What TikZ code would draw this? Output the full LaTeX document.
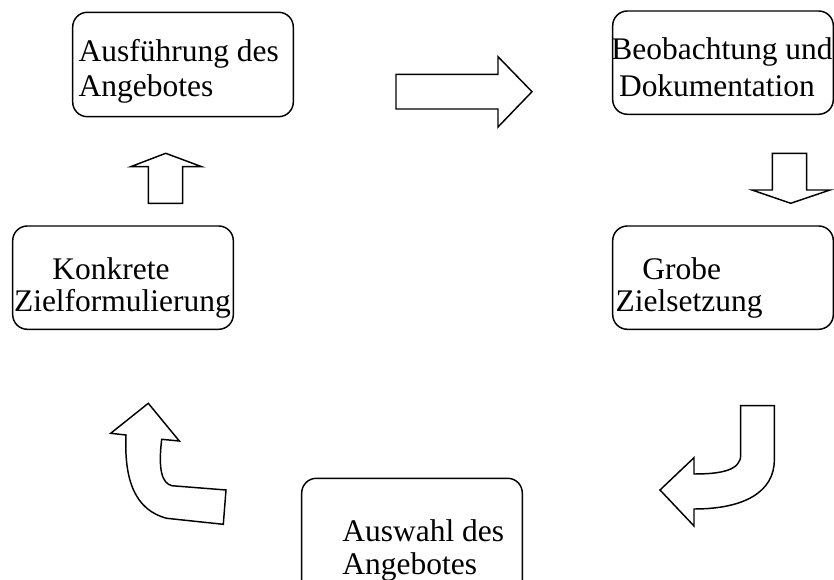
\documentclass[tikz,border=0pt]{standalone}
\usepackage{fontspec}
\setmainfont{Liberation Serif}

\tikzset{every picture/.style={line width=1.1pt}}
\tikzset{
  box/.style={draw, rounded corners=11pt},
  blockarrow/.style={draw, line join=miter},
  lbl/.style={anchor=base west, inner sep=0pt, font=\fontsize{23.6}{28}\selectfont}
}

\begin{document}
\begin{tikzpicture}[x=0.75pt,y=0.75pt,yscale=-1,xscale=1]
\useasboundingbox (0,0) rectangle (834,580);
\clip (0,0) rectangle (834,580);

%Rounded Rect [id:ausfuehrung]
\draw [box] (72.7,12.3) rectangle (293.3,116.7) ;
\node [lbl] (ausfuehrung1) at (78,61.7) {Ausführung des};
\node [lbl] (ausfuehrung2) at (78,96.7) {Angebotes};

%Rounded Rect [id:beobachtung]
\draw [box] (612.7,11) rectangle (833.3,114.3) ;
\node [lbl] (beobachtung1) at (610.7,60) {Beobachtung und};
\node [lbl] (beobachtung2) at (618.3,96.7) {Dokumentation};

%Rounded Rect [id:konkrete]
\draw [box] (12.7,226) rectangle (233.3,329.3) ;
\node [lbl] (konkrete1) at (51.7,280) {Konkrete};
\node [lbl] (konkrete2) at (13.3,311.7) {Zielformulierung};

%Rounded Rect [id:grobe]
\draw [box] (612.7,226) rectangle (833.3,329.3) ;
\node [lbl] (grobe1) at (641.7,280) {Grobe};
\node [lbl] (grobe2) at (615,311.7) {Zielsetzung};

%Rounded Rect [id:auswahl]
\draw [box] (301.7,478.3) rectangle (522.3,620) ;
\node [lbl] (auswahl1) at (341.7,541.7) {Auswahl des};
\node [lbl] (auswahl2) at (341.7,574) {Angebotes};

%Right Arrow [id:pfeilrechts]
\draw [blockarrow] (396,74.3) -- (498,74.3) -- (498,56.7) -- (532,91.7) -- (498,127) -- (498,109) -- (396,109) -- cycle ;
%Down Arrow [id:pfeilrunter]
\draw [blockarrow] (772.3,153.3) -- (806.7,153.3) -- (806.7,190) -- (830,190) -- (790.7,203.3) -- (752,190) -- (772.3,190) -- cycle ;
%Up Arrow [id:pfeilhoch]
\draw [blockarrow] (148.3,203.3) -- (148.3,166.7) -- (130.7,166.7) -- (165.7,153.3) -- (201.7,166.7) -- (182.7,166.7) -- (182.7,203.3) -- cycle ;
%Bent Arrow [id:bogenrechts]
\draw [blockarrow] (740.7,405.7) -- (774.3,405.7) -- (774.3,460) .. controls (774.3,492) and (744,509) .. (694,509) -- (694,526) -- (660,490) -- (694,457.7) -- (694,474) .. controls (722,474) and (740.7,470) .. (740.7,455) -- cycle ;
%Bent Arrow [id:bogenlinks]
\draw [blockarrow] (148.3,403.3) -- (179.3,441) -- (161.7,439.3) .. controls (158,470) and (162,483) .. (171.7,485.7) -- (226,490) -- (223.3,524.3) -- (166.7,518.3) .. controls (135,510) and (124,480) .. (126,435) -- (110.7,433.3) -- cycle ;

\end{tikzpicture}
\end{document}
